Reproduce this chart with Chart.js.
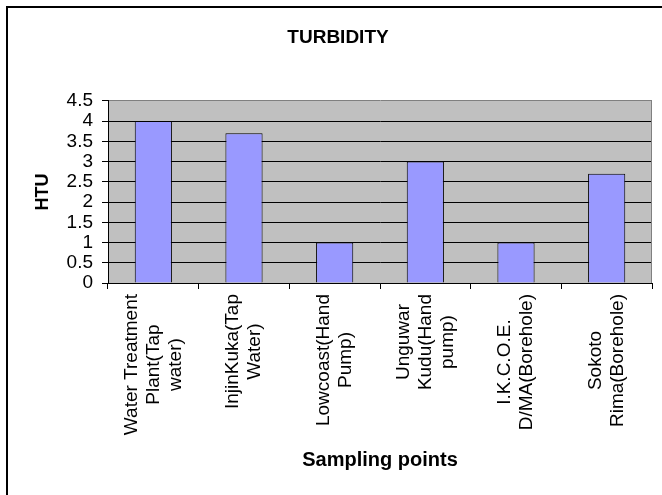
<!DOCTYPE html>
<html><head><meta charset="utf-8">
<script src="https://cdn.jsdelivr.net/npm/chart.js@4.4.1/dist/chart.umd.min.js"></script>
<style>html,body{margin:0;padding:0;background:#fff;} canvas{display:block;}</style>
</head><body>
<canvas id="c" width="662" height="495"></canvas>
<script>
const chartTitle = 'TURBIDITY';
const categories = [
  ['Water Treatment', 'Plant(Tap', 'water)'],
  ['InjinKuka(Tap', 'Water)'],
  ['Lowcoast(Hand', 'Pump)'],
  ['Unguwar', 'Kudu(Hand', 'pump)'],
  ['I.K.C.O.E.', 'D/MA(Borehole)'],
  ['Sokoto', 'Rima(Borehole)']
];
const turbidity = [4, 3.7, 1, 3, 1, 2.7];
const yTitle = 'HTU';
const xTitle = 'Sampling points';
const yMin = 0, yMax = 4.5, yStep = 0.5;

const FONT = "'Liberation Sans', Arial, sans-serif";
const LABEL_SIZE = 19;
const LABEL_LINE = 22;

const framePlugin = {
  id: 'frame',
  beforeDraw(chart) {
    const c = chart.ctx, a = chart.chartArea;
    c.save();
    c.fillStyle = '#fff';
    c.fillRect(0, 0, chart.width, chart.height);
    c.fillStyle = '#C0C0C0';
    c.fillRect(a.left, a.top, a.right - a.left, a.bottom - a.top);
    c.strokeStyle = '#000';
    c.lineWidth = 2;
    c.beginPath();
    c.moveTo(7, chart.height);
    c.lineTo(7, 7);
    c.lineTo(chart.width, 7);
    c.stroke();
    c.restore();
  },
  beforeDatasetsDraw(chart) {
    const c = chart.ctx, a = chart.chartArea;
    c.save();
    c.strokeStyle = '#808080';
    c.lineWidth = 1;
    c.beginPath();
    c.moveTo(a.right - 0.5, a.top);
    c.lineTo(a.right - 0.5, a.bottom);
    c.stroke();
    c.restore();
  },
  afterDraw(chart) {
    // category labels, rotated, each line centred on the block (as in the reference)
    const xs = chart.scales.x, c = chart.ctx;
    c.save();
    c.font = LABEL_SIZE + 'px ' + FONT;
    c.fillStyle = '#000';
    c.textAlign = 'center';
    c.textBaseline = 'middle';
    const top = xs.top + 6 + 5;
    chart.data.labels.forEach((lab, i) => {
      const lines = Array.isArray(lab) ? lab : [lab];
      const cx = xs.getPixelForTick(i);
      const maxW = Math.max(...lines.map(l => c.measureText(l).width));
      lines.forEach((ln, j) => {
        const x = cx + (j - (lines.length - 1) / 2) * LABEL_LINE;
        c.save();
        c.translate(x, top + maxW / 2);
        c.rotate(-Math.PI / 2);
        c.fillText(ln, 0, 0);
        c.restore();
      });
    });
    c.restore();
  }
};

new Chart(document.getElementById('c'), {
  type: 'bar',
  data: {
    labels: categories,
    datasets: [{
      label: chartTitle,
      data: turbidity,
      backgroundColor: '#9999FF',
      borderColor: '#000000',
      borderWidth: 1,
      categoryPercentage: 1,
      barPercentage: 0.41
    }]
  },
  options: {
    responsive: false,
    animation: false,
    devicePixelRatio: 1,
    layout: { padding: { left: 24, right: 10, top: 0, bottom: 0 } },
    plugins: {
      legend: { display: false },
      tooltip: { enabled: false },
      title: {
        display: true,
        text: chartTitle,
        color: '#000',
        font: { family: FONT, size: 19, weight: 'bold' },
        padding: { top: 26, bottom: 52 }
      }
    },
    scales: {
      x: {
        offset: true,
        grid: { display: true, offset: true, drawOnChartArea: false, drawTicks: true, tickLength: 6, tickColor: '#000', color: '#000' },
        border: { display: true, color: '#000', width: 1 },
        ticks: { display: false, autoSkip: false },
        title: {
          display: true, text: xTitle, color: '#000',
          font: { family: FONT, size: 20, weight: 'bold' },
          padding: { top: 0, bottom: 23 }
        },
        afterFit(scale) { scale.height = 212; }
      },
      y: {
        min: yMin, max: yMax,
        grid: {
          color: (ctx) => (ctx.tick && ctx.tick.value === yMax) ? '#808080' : '#000',
          tickColor: '#000', tickLength: 6, lineWidth: 1
        },
        border: { display: true, color: '#000', width: 1 },
        ticks: {
          stepSize: yStep, padding: 9, color: '#000', autoSkip: false,
          font: { family: FONT, size: 19 },
          callback: (v) => String(Math.round(v * 10) / 10)
        },
        title: {
          display: true, text: yTitle, color: '#000',
          font: { family: FONT, size: 18, weight: 'bold' },
          padding: { top: 8, bottom: 0 }
        },
        afterFit(scale) { scale.width = 84; }
      }
    }
  },
  plugins: [framePlugin]
});
</script>
</body></html>
